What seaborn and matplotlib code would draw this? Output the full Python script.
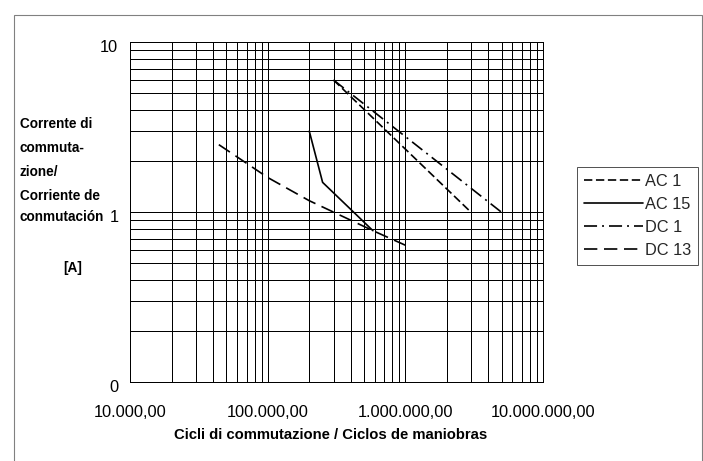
import numpy as np
import pandas as pd
import matplotlib
matplotlib.use("Agg")
import matplotlib.pyplot as plt
import seaborn as sns
from matplotlib.ticker import FixedLocator, FixedFormatter, LogLocator, NullFormatter
from matplotlib.transforms import ScaledTranslation
from matplotlib.patches import Rectangle

# ---- data ----
series_names = ["AC 1", "AC 15", "DC 1", "DC 13"]
ac1_x = [300000, 3000000]
ac1_y = [6.0, 1.0]
ac15_x = [200000, 250000, 580000]
ac15_y = [3.0, 1.5, 0.78]
dc1_x = [300000, 5000000]
dc1_y = [6.0, 1.0]
dc13_x = [44000, 100000, 200000, 580000, 1000000]
dc13_y = [2.5, 1.6, 1.17, 0.78, 0.64]

x_ticks = [1e4, 1e5, 1e6, 1e7]
x_tick_labels = ["10.000,00", "100.000,00", "1.000.000,00", "10.000.000,00"]
y_ticks = [0.1, 1, 10]
y_tick_labels = ["0", "1", "10"]

ylabel_lines = ["Corrente di", "commuta-", "zione/", "Corriente de", "conmutación"]
ylabel_unit = "[A]"
xlabel = "Cicli di commutazione / Ciclos de maniobras"

rows = []
for name, xs, ys in zip(series_names, [ac1_x, ac15_x, dc1_x, dc13_x],
                        [ac1_y, ac15_y, dc1_y, dc13_y]):
    for x, y in zip(xs, ys):
        rows.append((x, y, name))
df = pd.DataFrame(rows, columns=["cycles", "current", "series"])

sns.set_theme(style="white")
plt.rcParams["font.family"] = ["Liberation Sans", "DejaVu Sans"]
plt.rcParams["lines.scale_dashes"] = False

W, H = 703, 461
fig = plt.figure(figsize=(W / 100, H / 100), dpi=100)
fig.patch.set_facecolor("white")
ax_l, ax_r, ax_t, ax_b = 130.3, 543.0, 42.3, 382.3
ax = fig.add_axes([ax_l / W, 1 - ax_b / H, (ax_r - ax_l) / W, (ax_b - ax_t) / H])

dashes = {"AC 1": (6.0, 2.6), "AC 15": "", "DC 1": (9.4, 3.6, 1.4, 3.6), "DC 13": (9.6, 4.8)}
palette = {n: "black" for n in series_names}
sns.lineplot(data=df, x="cycles", y="current", hue="series", style="series",
             hue_order=series_names, style_order=series_names, palette=palette,
             dashes=dashes, estimator=None, sort=False, linewidth=1.2, ax=ax,
             legend=True)

ax.set_xscale("log")
ax.set_yscale("log")
ax.set_xlim(1e4, 1e7)
ax.set_ylim(0.1, 10)

ax.xaxis.set_major_locator(FixedLocator(x_ticks))
ax.xaxis.set_major_formatter(FixedFormatter(x_tick_labels))
ax.xaxis.set_minor_locator(LogLocator(base=10, subs=np.arange(2, 10)))
ax.xaxis.set_minor_formatter(NullFormatter())
ax.yaxis.set_major_locator(FixedLocator(y_ticks))
ax.yaxis.set_major_formatter(FixedFormatter(y_tick_labels))
ax.yaxis.set_minor_locator(LogLocator(base=10, subs=np.arange(2, 10)))
ax.yaxis.set_minor_formatter(NullFormatter())

ax.set_xlabel("")
ax.set_ylabel("")
ax.grid(True, which="both", color="black", linewidth=0.72)
ax.set_axisbelow(True)
for s in ax.spines.values():
    s.set_color("black")
    s.set_linewidth(0.72)
ax.tick_params(axis="both", which="major", direction="out", length=3.6, width=0.72,
               color="black", labelsize=11.8, labelcolor="black")
ax.tick_params(axis="x", which="major", pad=12.6)
ax.tick_params(axis="y", which="major", pad=5)
ax.tick_params(axis="both", which="minor", length=0)

# shift y tick labels slightly downwards as in the reference
for t in ax.yaxis.get_major_ticks():
    t.label1.set_transform(t.label1.get_transform() +
                           ScaledTranslation(0, -4 / 100, fig.dpi_scale_trans))

# legend
handles, labels = ax.get_legend_handles_labels()
hl = [(h, l) for h, l in zip(handles, labels) if l in series_names]
leg = ax.legend([h for h, _ in hl], [l for _, l in hl], loc="upper left",
                bbox_to_anchor=(577 / W, 1 - 167 / H), bbox_transform=fig.transFigure,
                frameon=True, fancybox=False, framealpha=1, edgecolor="#555555",
                fontsize=11.8, handlelength=3.6, handletextpad=0.15,
                labelspacing=0.5, borderpad=0.4, borderaxespad=0)
leg.get_frame().set_linewidth(0.72)
for line in leg.get_lines():
    line.set_linewidth(1.2)

# axis titles
ys = [124, 148, 172, 196, 217]
for txt, yy in zip(ylabel_lines, ys):
    fig.text(20 / W, 1 - yy / H, txt, ha="left", va="center", fontsize=9.8,
             fontweight="bold", color="black")
fig.text(63 / W, 1 - 268 / H, ylabel_unit, ha="left", va="center", fontsize=9.8,
         fontweight="bold", color="black")
fig.text(331 / W, 1 - 435 / H, xlabel, ha="center", va="center", fontsize=10.7,
         fontweight="bold", color="black")

# outer chart border
fig.add_artist(Rectangle((13.5 / W, -0.05), (702 - 13.5) / W, (H - 15.5) / H + 0.05,
                         transform=fig.transFigure, fill=False, edgecolor="#808080",
                         linewidth=0.8, clip_on=False))

fig.savefig("out.png", dpi=100)
